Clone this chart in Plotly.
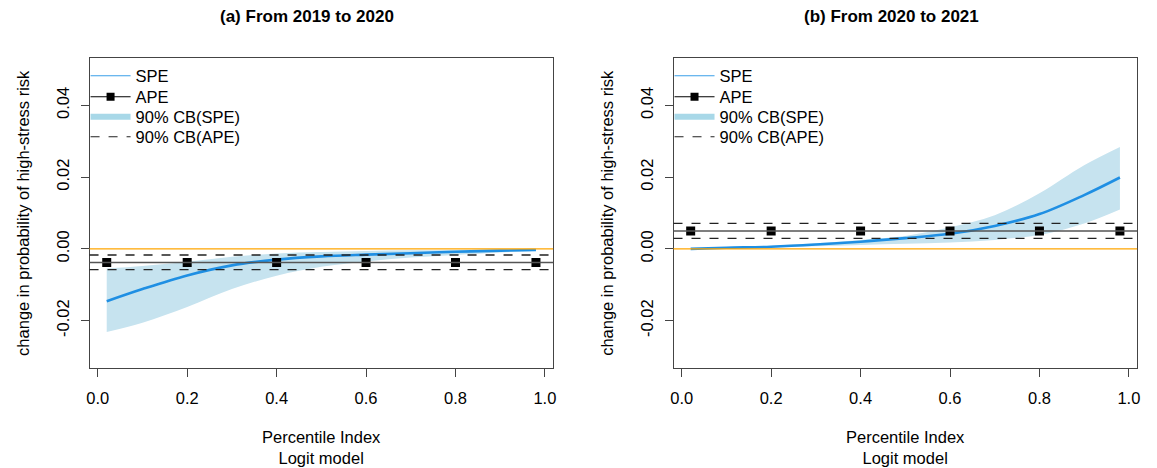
import plotly.graph_objects as go

# ---------------- data ----------------
pct = [0.02, 0.1, 0.2, 0.3, 0.4, 0.5, 0.6, 0.7, 0.8, 0.9, 0.98]
ape_x = [0.02, 0.2, 0.4, 0.6, 0.8, 0.98]

# (a) From 2019 to 2020
spe_a = [-0.0146, -0.0112, -0.0074, -0.0046, -0.0030, -0.0021, -0.0016, -0.0012, -0.0008, -0.0005, -0.0003]
spe_a_lo = [-0.0232, -0.0206, -0.0162, -0.0112, -0.0075, -0.0050, -0.0035, -0.0024, -0.0017, -0.0010, -0.0005]
spe_a_hi = [-0.0055, -0.0048, -0.0036, -0.0022, -0.0013, -0.0009, -0.0006, -0.0004, -0.0003, -0.0002, -0.0001]
ape_a = -0.0038
ape_a_lo = -0.0058
ape_a_hi = -0.0017

# (b) From 2020 to 2021
spe_b = [0.0000, 0.0003, 0.0006, 0.0012, 0.0020, 0.0030, 0.0042, 0.0064, 0.0097, 0.0150, 0.0199]
spe_b_lo = [0.0000, 0.0002, 0.0004, 0.0007, 0.0011, 0.0014, 0.0018, 0.0025, 0.0039, 0.0071, 0.0110]
spe_b_hi = [0.0001, 0.0005, 0.0009, 0.0016, 0.0025, 0.0036, 0.0060, 0.0094, 0.0155, 0.0233, 0.0284]
ape_b = 0.0050
ape_b_lo = 0.0029
ape_b_hi = 0.0071

titles = ["(a) From 2019 to 2020", "(b) From 2020 to 2021"]
legend_labels = ["SPE", "APE", "90% CB(SPE)", "90% CB(APE)"]
x_ticks = [0.0, 0.2, 0.4, 0.6, 0.8, 1.0]
y_ticks = [-0.02, 0.0, 0.02, 0.04]
y_ticktext = ["-0.02", "0.00", "0.02", "0.04"]
y_title = "change in probability of high-stress risk"
x_title = "Percentile Index<br>Logit model"

# ---------------- style ----------------
W, H = 1157, 468
FONT = "Liberation Sans, Arial, Helvetica, sans-serif"
SPE_COL = "#1f8fe3"
BAND_COL = "#c6e3ef"
ORANGE = "#ffa500"
AX_COL = "#444444"
LEG_ROWS = [76, 97, 117, 137]  # legend row centers (px)

panels = [
    dict(spe=spe_a, lo=spe_a_lo, hi=spe_a_hi, ape=ape_a, alo=ape_a_lo, ahi=ape_a_hi,
         xd=[87 / W, 553 / W], xa="x", ya="y", legx=83),
    dict(spe=spe_b, lo=spe_b_lo, hi=spe_b_hi, ape=ape_b, alo=ape_b_lo, ahi=ape_b_hi,
         xd=[674 / W, 1140 / W], xa="x2", ya="y2", legx=670),
]

fig = go.Figure()
shapes = []
annotations = []
legends = {}
ydom = [1 - 368 / H, 1 - 58 / H]

leg_common = dict(bgcolor="rgba(0,0,0,0)", borderwidth=0, font=dict(size=16.5, family=FONT, color="black"),
                  xanchor="left", yanchor="middle", itemwidth=40)

leg_counter = 0
for i, p in enumerate(panels):
    xa, ya = p["xa"], p["ya"]
    # confidence band for SPE
    fig.add_trace(go.Scatter(x=pct, y=p["hi"], mode="lines", line=dict(width=0, color=BAND_COL, shape="spline"),
                             xaxis=xa, yaxis=ya, showlegend=False, hoverinfo="skip"))
    fig.add_trace(go.Scatter(x=pct, y=p["lo"], mode="lines", line=dict(width=0, color=BAND_COL, shape="spline"),
                             fill="tonexty", fillcolor=BAND_COL,
                             xaxis=xa, yaxis=ya, showlegend=False, hoverinfo="skip"))
    # zero line (orange), APE line and its CB
    xref = ("x" if i == 0 else "x2") + " domain"
    yref = ya
    shapes.append(dict(type="line", xref=xref, yref=yref, x0=0, x1=1, y0=0, y1=0,
                       line=dict(color=ORANGE, width=1.2), layer="above"))
    shapes.append(dict(type="line", xref=xref, yref=yref, x0=0, x1=1, y0=p["ape"], y1=p["ape"],
                       line=dict(color="#555555", width=1.4), layer="above"))
    for v in (p["alo"], p["ahi"]):
        shapes.append(dict(type="line", xref=xref, yref=yref, x0=0, x1=1, y0=v, y1=v,
                           line=dict(color="#222222", width=1.3, dash="dash"), layer="above"))
    # SPE curve
    fig.add_trace(go.Scatter(x=pct, y=p["spe"], mode="lines", line=dict(color=SPE_COL, width=2.6, shape="spline"),
                             xaxis=xa, yaxis=ya, showlegend=False))
    # APE markers
    fig.add_trace(go.Scatter(x=ape_x, y=[p["ape"]] * len(ape_x), mode="markers",
                             marker=dict(symbol="square", size=9, color="black"),
                             xaxis=xa, yaxis=ya, showlegend=False))
    # legend entries (one legend per row for exact row spacing)
    entry_styles = [
        dict(mode="lines", line=dict(color="#3a9fe8", width=1.2)),
        dict(mode="lines+markers", line=dict(color="black", width=1.2),
             marker=dict(symbol="square", size=8, color="black")),
        dict(mode="lines", line=dict(color="#a8d8e8", width=6)),
        dict(mode="lines", line=dict(color="#222222", width=1.2, dash="dash")),
    ]
    for k, (lab, st) in enumerate(zip(legend_labels, entry_styles)):
        leg_counter += 1
        lname = "legend" if leg_counter == 1 else f"legend{leg_counter}"
        fig.add_trace(go.Scatter(x=[None], y=[None], name=lab, xaxis=xa, yaxis=ya, legend=lname, **st))
        legends[lname] = dict(leg_common, x=p["legx"] / W, y=1 - LEG_ROWS[k] / H)

    # title and axis title annotations
    cx = (p["xd"][0] + p["xd"][1]) / 2
    annotations.append(dict(text="<b>" + titles[i] + "</b>", xref="paper", yref="paper",
                            x=cx - 14 / W, y=1 - 17 / H, xanchor="center", yanchor="middle",
                            showarrow=False, font=dict(size=17, family=FONT, color="black")))
    annotations.append(dict(text=x_title, xref="paper", yref="paper",
                            x=cx, y=1 - 447 / H, xanchor="center", yanchor="middle",
                            showarrow=False, font=dict(size=16.5, family=FONT, color="black")))
    annotations.append(dict(text=y_title, xref="paper", yref="paper", textangle=-90,
                            x=(p["xd"][0] * W - 67) / W, y=(ydom[0] + ydom[1]) / 2,
                            xanchor="center", yanchor="middle",
                            showarrow=False, font=dict(size=16.5, family=FONT, color="black")))

axis_common = dict(showgrid=False, zeroline=False, showline=True, mirror=True, linecolor=AX_COL, linewidth=1,
                   ticks="outside", ticklen=8, tickcolor=AX_COL, tickfont=dict(size=16.5, family=FONT, color="black"))

layout_axes = {}
for i, p in enumerate(panels):
    sfx = "" if i == 0 else "2"
    layout_axes["xaxis" + sfx] = dict(axis_common, domain=p["xd"], range=[-0.0184, 1.0184],
                                      tickvals=x_ticks, ticktext=[f"{v:.1f}" for v in x_ticks],
                                      anchor="y" + sfx, ticklabelstandoff=7)
    layout_axes["yaxis" + sfx] = dict(axis_common, domain=ydom, range=[-0.0332, 0.0532],
                                      tickvals=y_ticks, ticktext=y_ticktext, tickangle=-90,
                                      anchor="x" + sfx, ticklabelstandoff=5)

fig.update_layout(
    width=W, height=H,
    margin=dict(l=0, r=0, t=0, b=0),
    paper_bgcolor="white", plot_bgcolor="white",
    font=dict(family=FONT, color="black"),
    showlegend=True,
    shapes=shapes,
    annotations=annotations,
    **legends,
    **layout_axes,
)

fig.write_html("out.html")
